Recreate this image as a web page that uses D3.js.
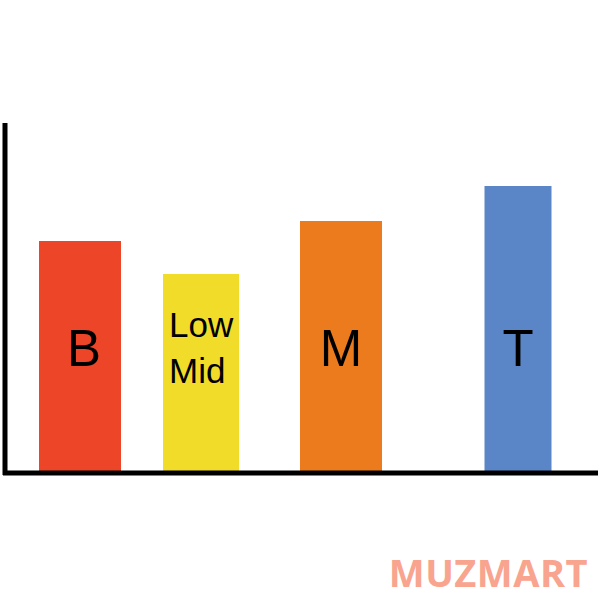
<!DOCTYPE html>
<html><head><meta charset="utf-8">
<script src="https://cdn.jsdelivr.net/npm/d3@7"></script>
<style>body{margin:0;background:#fff}svg{display:block}</style>
</head><body>
<script>
const categories = ["B", "Low Mid", "M", "T"];
const values = [232, 199, 252, 287];
const barCenters = [80, 201, 341, 518];
const barWidths = [82, 76, 82, 67];
const colors = ["#ec4527", "#f2dc2a", "#ec7b1e", "#5a86c8"];

const W = 600, H = 600;
const svg = d3.select("body").append("svg").attr("width", W).attr("height", H);
const x = d3.scaleLinear().domain([0, 600]).range([0, 600]);
const y = d3.scaleLinear().domain([0, 350]).range([473, 123]);

svg.selectAll("rect.bar").data(categories).enter().append("rect")
  .attr("class", "bar")
  .attr("x", (d, i) => x(barCenters[i] - barWidths[i] / 2))
  .attr("width", (d, i) => x(barWidths[i]) - x(0))
  .attr("y", (d, i) => y(values[i]))
  .attr("height", (d, i) => y(0) - y(values[i]))
  .attr("fill", (d, i) => colors[i]);

// labels
categories.forEach((c, i) => {
  if (c === "Low Mid") {
    const t = svg.append("text").attr("font-family", "Liberation Sans, Arial, sans-serif")
      .attr("font-size", 35).attr("fill", "#000");
    const parts = c.split(" ");
    t.append("tspan").attr("x", x(barCenters[i] - barWidths[i] / 2) + 6).attr("y", 337).text(parts[0]);
    t.append("tspan").attr("x", x(barCenters[i] - barWidths[i] / 2) + 6).attr("y", 383).text(parts[1]);
  } else {
    svg.append("text").attr("x", x(barCenters[i]) + (c === "B" ? 4 : 0)).attr("y", 366)
      .attr("text-anchor", "middle").attr("font-family", "Liberation Sans, Arial, sans-serif")
      .attr("font-size", 51).attr("fill", "#000").text(c);
  }
});

// axes
svg.append("line").attr("x1", 5).attr("x2", 5).attr("y1", 123).attr("y2", 475)
  .attr("stroke", "#000").attr("stroke-width", 5);
svg.append("line").attr("x1", 3).attr("x2", 598).attr("y1", 473).attr("y2", 473)
  .attr("stroke", "#000").attr("stroke-width", 5);

// watermark
svg.append("text").attr("x", 588).attr("y", 587).attr("text-anchor", "end")
  .attr("font-family", "Open Sans, Liberation Sans, sans-serif").attr("font-weight", "bold")
  .attr("font-size", 38).attr("fill", "#f8a48e").attr("letter-spacing", 0.5).text("MUZMART");
</script>
</body></html>
